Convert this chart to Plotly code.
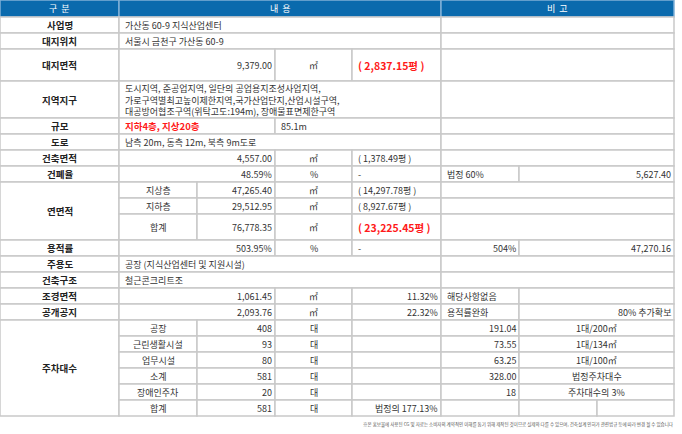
import plotly.graph_objects as go

W, H = 682, 434
FONT = "Noto Sans CJK KR"
RED = "#ff1a1a"
BLUE = "#0a6aad"
GRID = "#c9c9c9"

X = [0, 119, 197, 275, 352, 441, 519, 597, 674]

header_labels = ["구  분", "내  용", "비  고"]
row_labels = ["사업명", "대지위치", "대지면적", "지역지구", "규모", "도로", "건축면적", "건폐율",
              "연면적", "용적률", "주용도", "건축구조", "조경면적", "공개공지", "주차대수"]
project_name = "가산동 60-9 지식산업센터"
site_location = "서울시 금천구 가산동 60-9"
site_area = "9,379.00"
site_area_pyeong = "( 2,837.15평 )"
zone_lines = ["도시지역, 준공업지역, 일단의 공업용지조성사업지역,",
              "가로구역별최고높이제한지역,국가산업단지,산업시설구역,",
              "대공방어협조구역(위탁고도:194m), 장애물표면제한구역"]
scale_text = "지하4층, 지상20층"
height_text = "85.1m"
road_text = "남측 20m, 동측 12m, 북측 9m도로"
building_area = "4,557.00"
building_area_pyeong = "( 1,378.49평 )"
coverage = "48.59%"
coverage_legal = "법정 60%"
coverage_limit = "5,627.40"
floor_sub = ["지상층", "지하층", "합계"]
floor_vals = ["47,265.40", "29,512.95", "76,778.35"]
floor_pyeong = ["( 14,297.78평 )", "( 8,927.67평 )", "( 23,225.45평 )"]
far = "503.95%"
far_legal = "504%"
far_limit = "47,270.16"
main_use = "공장 (지식산업센터 및 지원시설)"
structure = "철근콘크리트조"
landscape = ["1,061.45", "11.32%", "해당사항없음", ""]
open_space = ["2,093.76", "22.32%", "용적률완화", "80% 추가확보"]
park_sub = ["공장", "근린생활시설", "업무시설", "소계", "장애인주차", "합계"]
park_vals = ["408", "93", "80", "581", "20", "581"]
park_legal = ["191.04", "73.55", "63.25", "328.00", "18", ""]
park_rule = ["1대/200㎡", "1대/134㎡", "1대/100㎡", "법정주차대수", "주차대수의 3%", ""]
park_ratio = "법정의 177.13%"
footnote = ("※본 홍보물에 사용된 CG 및 자료는 소비자의 계약적인 이해를 돕기 위해 제작된 것이므로 실제와 다를 수 있으며, "
            "건축설계 인허가 관련법규 등에 따라 변경 될 수 있습니다")

shapes, ann = [], []

def cell(x0, x1, y0, y1, text="", align="left", color="#333", bold=False, size=9, fill="white", line=GRID):
    shapes.append(dict(type="rect", x0=x0, x1=x1, y0=y0, y1=y1, fillcolor=fill,
                       line=dict(color=line, width=1.5), layer="below"))
    if text:
        if align == "left":
            xx, xa = x0 + 4, "left"
        elif align == "right":
            xx, xa = x1 - 1, "right"
        else:
            xx, xa = (x0 + x1) / 2, "center"
        if bold:
            text = "<b>" + text + "</b>"
        ann.append(dict(x=xx, y=(y0 + y1) / 2, xref="x", yref="y", text=text, showarrow=False,
                        xanchor=xa, yanchor="middle", align=xa,
                        font=dict(family=FONT, size=size, color=color)))

def label(y0, y1, t):
    cell(X[0], X[1], y0, y1, t, "center", "#222", True, 9.5)

# header
cell(X[0], X[1], 0, 17, header_labels[0], "center", "white", False, 9, BLUE, "#7fb0d6")
cell(X[1], X[5], 0, 17, header_labels[1], "center", "white", False, 9, BLUE, "#7fb0d6")
cell(X[5], X[8], 0, 17, header_labels[2], "center", "white", False, 9, BLUE, "#7fb0d6")

label(17, 33, row_labels[0]); cell(X[1], X[5], 17, 33, project_name); cell(X[5], X[8], 17, 33)
label(33, 49, row_labels[1]); cell(X[1], X[5], 33, 49, site_location); cell(X[5], X[8], 33, 49)
label(49, 81, row_labels[2]); cell(X[1], X[3], 49, 81, site_area, "right")
cell(X[3], X[4], 49, 81, "㎡", "center"); cell(X[4], X[5], 49, 81, site_area_pyeong, "left", RED, True, 10.5)
cell(X[5], X[8], 49, 81)
label(81, 118, row_labels[3]); cell(X[1], X[5], 81, 118, "<br>".join(zone_lines)); cell(X[5], X[8], 81, 118)
label(118, 134, row_labels[4]); cell(X[1], X[3], 118, 134, scale_text, "left", RED, True, 9.5)
cell(X[3], X[5], 118, 134, height_text, "left"); cell(X[5], X[8], 118, 134)
label(134, 150, row_labels[5]); cell(X[1], X[5], 134, 150, road_text); cell(X[5], X[8], 134, 150)
label(150, 166, row_labels[6]); cell(X[1], X[3], 150, 166, building_area, "right")
cell(X[3], X[4], 150, 166, "㎡", "center"); cell(X[4], X[5], 150, 166, building_area_pyeong)
cell(X[5], X[8], 150, 166)
label(166, 182, row_labels[7]); cell(X[1], X[3], 166, 182, coverage, "right")
cell(X[3], X[4], 166, 182, "%", "center"); cell(X[4], X[5], 166, 182, "-")
cell(X[5], X[6], 166, 182, coverage_legal); cell(X[6], X[8], 166, 182, coverage_limit, "right")

fy = [182, 198, 214, 240]
label(fy[0], fy[-1], row_labels[8])
for i in range(3):
    a, b = fy[i], fy[i + 1]
    cell(X[1], X[2], a, b, floor_sub[i], "center")
    cell(X[2], X[3], a, b, floor_vals[i], "right")
    cell(X[3], X[4], a, b, "㎡", "center")
    if i == 2:
        cell(X[4], X[5], a, b, floor_pyeong[i], "left", RED, True, 10.5)
    else:
        cell(X[4], X[5], a, b, floor_pyeong[i])
    cell(X[5], X[8], a, b)

label(240, 256, row_labels[9]); cell(X[1], X[3], 240, 256, far, "right")
cell(X[3], X[4], 240, 256, "%", "center"); cell(X[4], X[5], 240, 256, "-")
cell(X[5], X[6], 240, 256, far_legal, "right"); cell(X[6], X[8], 240, 256, far_limit, "right")
label(256, 272, row_labels[10]); cell(X[1], X[5], 256, 272, main_use); cell(X[5], X[8], 256, 272)
label(272, 288, row_labels[11]); cell(X[1], X[5], 272, 288, structure); cell(X[5], X[8], 272, 288)
for (a, b), lab, d in [((288, 304), row_labels[12], landscape), ((304, 320), row_labels[13], open_space)]:
    label(a, b, lab)
    cell(X[1], X[3], a, b, d[0], "right"); cell(X[3], X[4], a, b, "㎡", "center")
    cell(X[4], X[5], a, b, d[1], "right"); cell(X[5], X[6], a, b, d[2])
    cell(X[6], X[8], a, b, d[3], "right")

py0 = 320
label(py0, py0 + 16 * len(park_sub), row_labels[14])
for i in range(len(park_sub)):
    a, b = py0 + 16 * i, py0 + 16 * (i + 1)
    cell(X[1], X[2], a, b, park_sub[i], "center")
    cell(X[2], X[3], a, b, park_vals[i], "right")
    cell(X[3], X[4], a, b, "대", "center")
    if i == len(park_sub) - 1:
        cell(X[4], X[5], a, b, park_ratio, "right")
        cell(X[5], X[6], a, b); cell(X[6], X[7], a, b); cell(X[7], X[8], a, b)
    else:
        cell(X[4], X[5], a, b)
        cell(X[5], X[6], a, b, park_legal[i], "right")
        cell(X[6], X[8], a, b, park_rule[i], "center")

ann.append(dict(x=676, y=424, xref="x", yref="y", text=footnote, showarrow=False,
                xanchor="right", yanchor="middle", font=dict(family=FONT, size=4.5, color="#555")))

fig = go.Figure()
fig.update_layout(width=W, height=H, margin=dict(l=0, r=0, t=0, b=0),
                  paper_bgcolor="white", plot_bgcolor="white", shapes=shapes, annotations=ann,
                  xaxis=dict(range=[0, W], visible=False, fixedrange=True),
                  yaxis=dict(range=[H, 0], visible=False, fixedrange=True), showlegend=False)
fig.write_html("out.html", config={"displayModeBar": False},
               post_script="document.body.style.margin='0';document.body.style.overflow='hidden';")
